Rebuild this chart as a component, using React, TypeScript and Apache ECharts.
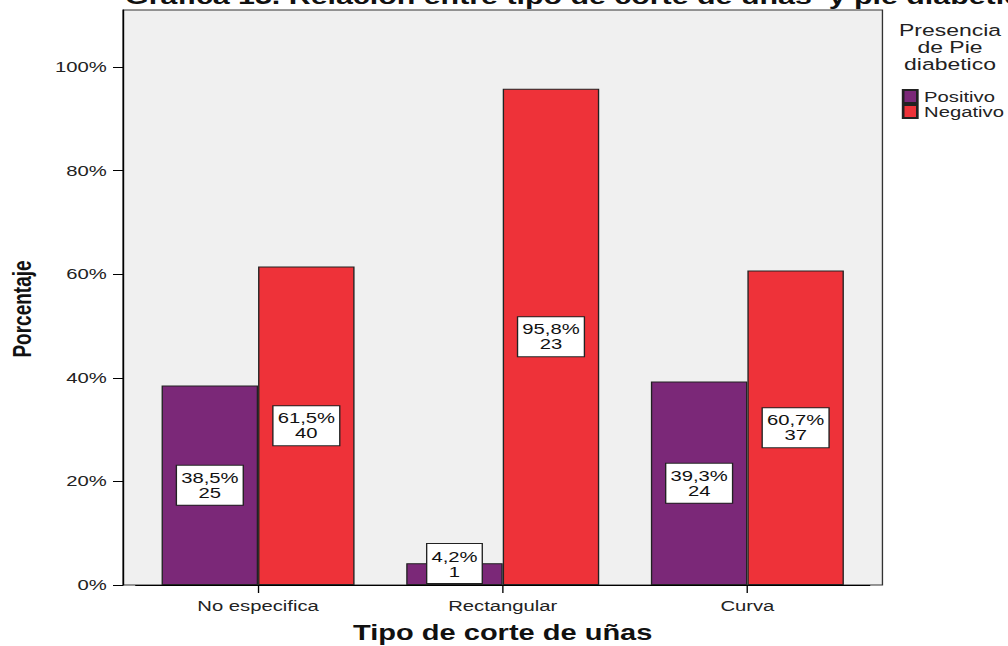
import { useEffect, useRef } from "react";
import * as echarts from "echarts";

const categories = ["No especifica", "Rectangular", "Curva"];
const seriesNames = ["Positivo", "Negativo"];
const positivoPct = [38.5, 4.2, 39.3];
const negativoPct = [61.5, 95.8, 60.7];
const positivoCount = [25, 1, 24];
const negativoCount = [40, 23, 37];
const yTicks = [0, 20, 40, 60, 80, 100];
const yMax = 111;
const mainTitle = "Gráfica 15. Relación entre tipo de corte de uñas  y pie diabetico";
const legendTitle = "Presencia\nde Pie\ndiabetico";
const xTitle = "Tipo de corte de uñas";
const yTitle = "Porcentaje";

const S = 1.35; // horizontal stretch of the original picture
const W = 1008 / S;
const H = 646;
const FONT = "'Liberation Sans', Arial, sans-serif";
const PURPLE = "#7B2878";
const RED = "#EE3239";

const fmt = (v: number, n: number) => `${v.toFixed(1).replace(".", ",")}%\n${n}`;

export default function App() {
  const ref = useRef<HTMLDivElement>(null);
  useEffect(() => {
    if (!ref.current) return;
    const chart = echarts.init(ref.current, null, { renderer: "svg" });
    const labelBase = {
      show: true,
      position: "inside",
      fontFamily: FONT,
      fontSize: 15,
      lineHeight: 15,
      color: "#111",
      backgroundColor: "#fff",
      borderColor: "#222",
      borderWidth: 1,
      padding: [5, 3, 4, 3],
    };
    const mkData = (pcts: number[]) =>
      pcts.map((v) => {
        const item: any = { value: v };
        if (v < 10) item.label = { position: "insideBottom", distance: 2 };
        return item;
      });
    const option: any = {
      animation: false,
      backgroundColor: "#fff",
      textStyle: { fontFamily: FONT },
      grid: [
        {
          left: 123 / S,
          right: W - 882 / S,
          top: 10,
          bottom: H - 585,
          outerBoundsMode: "none",
          containLabel: false,
          show: true,
          backgroundColor: "#F0F0F0",
          borderColor: "#333",
          borderWidth: 1,
        },
        {
          left: 135.75 / S,
          right: W - 869.25 / S,
          top: 10,
          bottom: H - 585,
          outerBoundsMode: "none",
          containLabel: false,
        },
      ],
      xAxis: [
        { type: "value", gridIndex: 0, show: false, min: 0, max: 1 },
        {
          type: "category",
          gridIndex: 1,
          data: categories,
          axisLine: { show: true, lineStyle: { color: "#000", width: 1 } },
          axisTick: { show: true, alignWithLabel: true, length: 8, lineStyle: { color: "#000" } },
          axisLabel: { fontSize: 15, color: "#222", margin: 13, fontFamily: FONT },
          name: xTitle,
          nameLocation: "middle",
          nameGap: 36,
          nameTextStyle: { fontSize: 21.5, fontWeight: "bold", color: "#111", fontFamily: FONT },
          splitLine: { show: false },
        },
      ],
      yAxis: [
        {
          type: "value",
          gridIndex: 0,
          min: 0,
          max: yMax,
          axisLine: { show: true, lineStyle: { color: "#000", width: 1 } },
          axisTick: { show: true, length: 7.4, customValues: yTicks, lineStyle: { color: "#000" } },
          axisLabel: {
            customValues: yTicks,
            formatter: (v: number) => (yTicks.includes(v) ? `${v}%` : ""),
            fontSize: 15,
            color: "#222",
            margin: 12,
            fontFamily: FONT,
          },
          splitLine: { show: false },
        },
        { type: "value", gridIndex: 1, min: 0, max: yMax, show: false, splitLine: { show: false } },
      ],
      legend: {
        orient: "vertical",
        left: 663,
        top: 84,
        itemWidth: 10.5,
        itemHeight: 13,
        itemGap: 0,
        icon: "rect",
        data: seriesNames,
        textStyle: { fontSize: 15, lineHeight: 15, color: "#222", fontFamily: FONT },
      },
      graphic: [
        {
          type: "text",
          x: 92.6,
          y: -4,
          style: {
            text: mainTitle,
            fontSize: 22.5,
            fontWeight: "bold",
            fontFamily: FONT,
            fill: "#111",
            textAlign: "left",
            textVerticalAlign: "middle",
          },
        },
        {
          type: "text",
          x: 950 / S,
          y: 47,
          style: {
            text: legendTitle,
            fontSize: 17,
            lineHeight: 17,
            fontFamily: FONT,
            fill: "#222",
            textAlign: "center",
            textVerticalAlign: "middle",
          },
        },
        {
          type: "text",
          x: 22 / S,
          y: 309,
          rotation: Math.PI / 2,
          style: {
            text: yTitle,
            fontSize: 19,
            fontWeight: "bold",
            fontFamily: FONT,
            fill: "#111",
            textAlign: "center",
            textVerticalAlign: "middle",
          },
        },
      ],
      series: [
        {
          name: seriesNames[0],
          type: "bar",
          xAxisIndex: 1,
          yAxisIndex: 1,
          barWidth: 96.5 / S,
          barGap: "0%",
          data: mkData(positivoPct),
          itemStyle: { color: PURPLE, borderColor: "#222", borderWidth: 1 },
          label: {
            ...labelBase,
            formatter: (p: any) => fmt(positivoPct[p.dataIndex], positivoCount[p.dataIndex]),
          },
        },
        {
          name: seriesNames[1],
          type: "bar",
          xAxisIndex: 1,
          yAxisIndex: 1,
          barWidth: 96.5 / S,
          barGap: "0%",
          data: mkData(negativoPct),
          itemStyle: { color: RED, borderColor: "#222", borderWidth: 1 },
          label: {
            ...labelBase,
            formatter: (p: any) => fmt(negativoPct[p.dataIndex], negativoCount[p.dataIndex]),
          },
        },
      ],
    };
    chart.setOption(option);
    return () => chart.dispose();
  }, []);
  return (
    <div
      ref={ref}
      style={{
        position: "fixed",
        left: 0,
        top: 0,
        width: `${W}px`,
        height: `${H}px`,
        transform: `scaleX(${S})`,
        transformOrigin: "0 0",
        background: "#fff",
      }}
    />
  );
}
